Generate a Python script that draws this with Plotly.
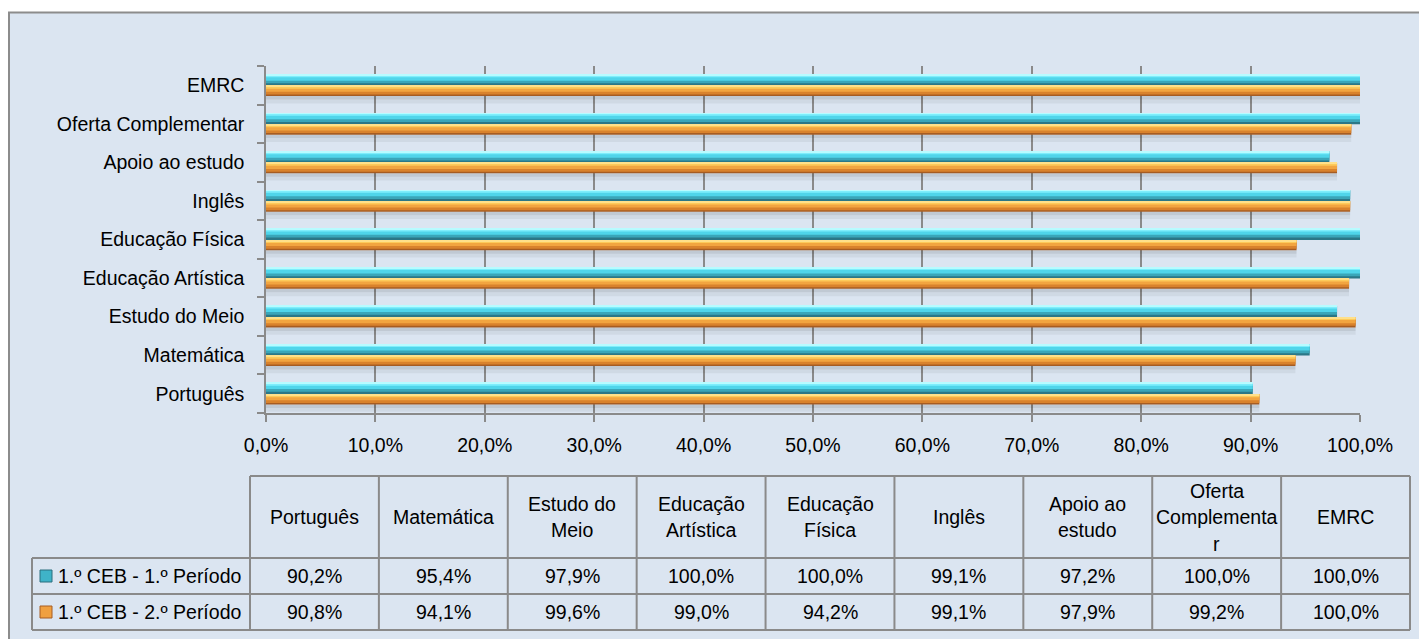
import plotly.graph_objects as go

categories = ["Português", "Matemática", "Estudo do Meio", "Educação Artística",
              "Educação Física", "Inglês", "Apoio ao estudo", "Oferta Complementar", "EMRC"]
table_headers = ["Português", "Matemática", "Estudo do<br>Meio", "Educação<br>Artística",
                 "Educação<br>Física", "Inglês", "Apoio ao<br>estudo",
                 "Oferta<br>Complementa<br>r", "EMRC"]
series_names = ["1.º CEB - 1.º Período", "1.º CEB - 2.º Período"]
periodo1 = [90.2, 95.4, 97.9, 100.0, 100.0, 99.1, 97.2, 100.0, 100.0]
periodo2 = [90.8, 94.1, 99.6, 99.0, 94.2, 99.1, 97.9, 99.2, 100.0]
x_ticks = [0, 10, 20, 30, 40, 50, 60, 70, 80, 90, 100]

# page is shown with an 8px body margin
OX, OY = 8, 8
W, H = 1427 - OX, 639 - OY
PL, PR, PT, PB = 266, 1360, 66, 413   # plot area in page pixels
FONT = "Liberation Sans, Arial, sans-serif"
FS = 19.5
GRID = "#8a8a8a"


def px(xp):
    return (xp - PL) / (PR - PL)


def py(yp):
    return (PB - yp) / (PB - PT)


def fmt(v):
    return f"{v:.1f}".replace(".", ",") + "%"


fig = go.Figure()

# shadows under bar pairs
for off, w, col in [(-0.37, 0.09, "rgba(0,0,0,0.12)"), (-0.47, 0.10, "rgba(0,0,0,0.05)")]:
    fig.add_trace(go.Bar(y=categories, x=periodo2, orientation="h", offset=off, width=w,
                         marker=dict(color=col, line=dict(width=0)), showlegend=False,
                         hoverinfo="skip"))

# 1st period (cyan cylinder look)
cyan_layers = [(-0.01, 0.29, "#2b7787"), (0.05, 0.23, "#3aa6b9"), (0.12, 0.16, "#4fd5ea"),
               (0.21, 0.06, "#7eeefc"), (0.26, 0.02, "#b8fbff")]
for off, w, col in cyan_layers:
    fig.add_trace(go.Bar(y=categories, x=periodo1, orientation="h", offset=off, width=w,
                         marker=dict(color=col, line=dict(width=0)), showlegend=False,
                         name=series_names[0]))

# 2nd period (orange cylinder look)
orange_layers = [(-0.28, 0.27, "#a65c22"), (-0.24, 0.23, "#d9822c"), (-0.17, 0.16, "#f2a540"),
                 (-0.09, 0.08, "#fdca5a"), (-0.04, 0.025, "#ffe08a")]
for off, w, col in orange_layers:
    fig.add_trace(go.Bar(y=categories, x=periodo2, orientation="h", offset=off, width=w,
                         marker=dict(color=col, line=dict(width=0)), showlegend=False,
                         name=series_names[1]))

shapes = []
annotations = []

# outer chart area
shapes.append(dict(type="rect", xref="paper", yref="paper", layer="below",
                   x0=px(9), x1=px(1445), y0=py(12.5), y1=py(660),
                   fillcolor="#DBE5F1", line=dict(color="#8c8c8c", width=2)))

# data table
col_l, col_r = 250, 1410
ncol = len(categories)
cw = (col_r - col_l) / ncol
hdr_t, hdr_b = 476, 558
row_h = 36
rows_b = hdr_b + 2 * row_h
leg_l = 32
line = dict(color="#8a8a8a", width=2)

shapes.append(dict(type="line", xref="paper", yref="paper", x0=px(col_l), x1=px(col_r),
                   y0=py(hdr_t), y1=py(hdr_t), line=line))
for yy in [hdr_b, hdr_b + row_h, rows_b]:
    shapes.append(dict(type="line", xref="paper", yref="paper", x0=px(leg_l), x1=px(col_r),
                       y0=py(yy), y1=py(yy), line=line))
shapes.append(dict(type="line", xref="paper", yref="paper", x0=px(leg_l), x1=px(leg_l),
                   y0=py(hdr_b), y1=py(rows_b), line=line))
for k in range(ncol + 1):
    xx = col_l + k * cw
    shapes.append(dict(type="line", xref="paper", yref="paper", x0=px(xx), x1=px(xx),
                       y0=py(hdr_t), y1=py(rows_b), line=line))

line_gap = 26.5
for k, lab in enumerate(table_headers):
    parts = lab.split("<br>")
    cx = col_l + (k + 0.5) * cw
    cy0 = (hdr_t + hdr_b) / 2 - (len(parts) - 1) * line_gap / 2
    for j, p in enumerate(parts):
        annotations.append(dict(xref="paper", yref="paper", x=px(cx), y=py(cy0 + j * line_gap),
                                text=p, showarrow=False, xanchor="center", yanchor="middle",
                                font=dict(size=FS, color="#000000", family=FONT)))

key_cols = [("#3fb3c8", "#2a6f7e"), ("#f0a040", "#a65c22")]
for r, (vals, nm) in enumerate([(periodo1, series_names[0]), (periodo2, series_names[1])]):
    cy = hdr_b + (r + 0.5) * row_h
    for k, v in enumerate(vals):
        cx = col_l + (k + 0.5) * cw
        annotations.append(dict(xref="paper", yref="paper", x=px(cx), y=py(cy), text=fmt(v),
                                showarrow=False, xanchor="center", yanchor="middle",
                                font=dict(size=FS, color="#000000", family=FONT)))
    shapes.append(dict(type="rect", xref="paper", yref="paper", x0=px(40), x1=px(52),
                       y0=py(cy - 6), y1=py(cy + 6), fillcolor=key_cols[r][0],
                       line=dict(color=key_cols[r][1], width=1)))
    annotations.append(dict(xref="paper", yref="paper", x=px(56), y=py(cy), text=nm,
                            showarrow=False, xanchor="left", yanchor="middle",
                            font=dict(size=FS, color="#000000", family=FONT)))

fig.update_layout(
    width=W, height=H,
    margin=dict(l=PL - OX, r=(OX + W) - PR, t=PT - OY, b=(OY + H) - PB, pad=0),
    paper_bgcolor="#ffffff",
    plot_bgcolor="#ffffff",
    barmode="overlay",
    separators=",.",
    font=dict(family=FONT, size=FS, color="#000000"),
    shapes=shapes,
    annotations=annotations,
    xaxis=dict(range=[0, 100], tickmode="array", tickvals=x_ticks,
               ticktext=[fmt(t) for t in x_ticks],
               showgrid=True, gridcolor=GRID, gridwidth=1.5, zeroline=False,
               showline=True, linecolor=GRID, linewidth=1.5,
               ticks="outside", ticklen=7, tickcolor=GRID, tickwidth=1.5,
               tickfont=dict(size=FS, family=FONT), ticklabelstandoff=7),
    yaxis=dict(type="category", categoryorder="array", categoryarray=categories,
               range=[-0.5, len(categories) - 0.5], showgrid=False, zeroline=False,
               showline=True, linecolor=GRID, linewidth=1.5,
               ticks="outside", tickson="boundaries", ticklen=7, tickcolor=GRID, tickwidth=1.5,
               tickfont=dict(size=FS, family=FONT), ticklabelstandoff=16),
)

fig.write_html("out.html")
